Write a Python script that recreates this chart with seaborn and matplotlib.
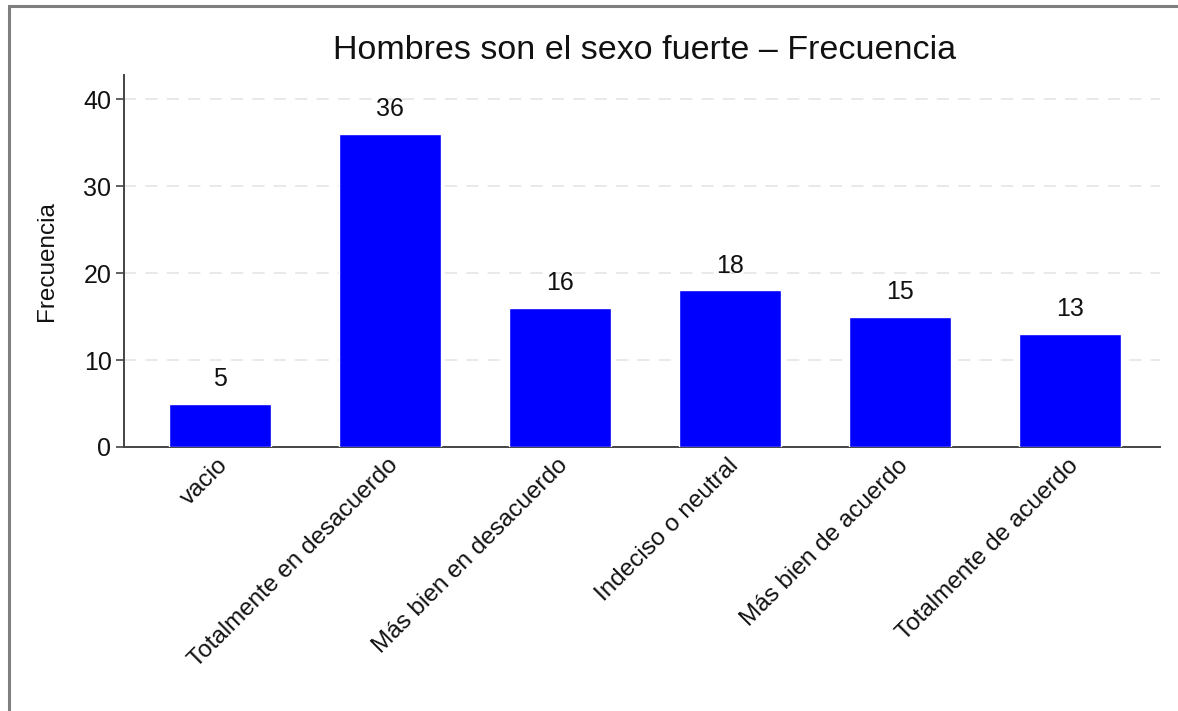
import matplotlib
matplotlib.use("Agg")
import matplotlib.pyplot as plt
import matplotlib.transforms as mtransforms
import seaborn as sns
import pandas as pd
from matplotlib.patches import Rectangle

categories = ["vacio", "Totalmente en desacuerdo", "Más bien en desacuerdo",
              "Indeciso o neutral", "Más bien de acuerdo", "Totalmente de acuerdo"]
values = [5, 36, 16, 18, 15, 13]
yticks = [0, 10, 20, 30, 40]

sns.set_theme(style="white")
plt.rcParams['font.family'] = ['Liberation Sans', 'DejaVu Sans']
plt.rcParams['text.color'] = '#111111'

W, H = 1178, 711
fig = plt.figure(figsize=(W / 100, H / 100), dpi=100)
fig.patch.set_facecolor('white')
ax = fig.add_axes([124 / W, 1 - 447 / H, (1160 - 124) / W, (447 - 75) / H])

df = pd.DataFrame({"cat": categories, "val": values})
sns.barplot(data=df, x="cat", y="val", color="#0000ff", saturation=1,
            width=0.6, ax=ax, zorder=3)

for c in ax.containers:
    ax.bar_label(c, labels=[str(v) for v in values], padding=9,
                 fontsize=18, color='#111111')

ax.set_ylim(0, 42.76)
ax.set_xlim(-0.565, 5.53)
ax.set_yticks(yticks)
for y in yticks[1:]:
    ax.axhline(y, color='#e3e3e3', lw=1.1, ls=(0, (8, 6)), zorder=1)

for s in ['top', 'right']:
    ax.spines[s].set_visible(False)
for s in ['left', 'bottom']:
    ax.spines[s].set_color('#444444')
    ax.spines[s].set_linewidth(1.4)

ax.tick_params(axis='y', which='both', left=True, length=6, width=1.2,
               color='#444444', labelsize=18, labelcolor='#111111', pad=3)
ax.tick_params(axis='x', bottom=False, length=0, labelsize=17.5,
               labelcolor='#111111', pad=11)
offset = mtransforms.ScaledTranslation(5 / 100, 0, fig.dpi_scale_trans)
for lbl in ax.get_xticklabels():
    lbl.set_rotation(45)
    lbl.set_ha('right')
    lbl.set_va('center')
    lbl.set_rotation_mode('anchor')
    lbl.set_transform(lbl.get_transform() + offset)

ax.set_xlabel("")
ax.set_ylabel("Frecuencia", fontsize=17.5, color='#111111')
ax.yaxis.set_label_coords(-0.064, 0.5)

fig.text(645 / W, 1 - 59 / H, "Hombres son el sexo fuerte – Frecuencia",
         ha='center', va='baseline', fontsize=24.5, color='#111111')

fig.patches.append(Rectangle((9 / W, -0.1), 1.2, 1 - 6 / H + 0.1,
                             transform=fig.transFigure, fill=False,
                             edgecolor='#7f7f7f', lw=2.2))

fig.savefig("out.png", dpi=100, facecolor='white')
